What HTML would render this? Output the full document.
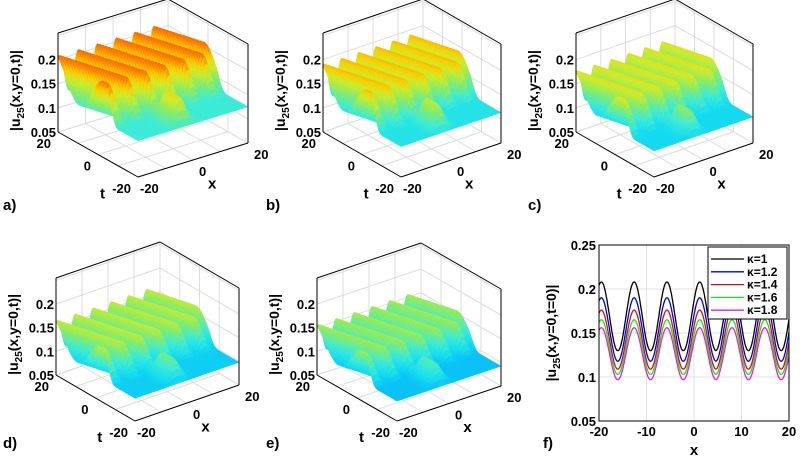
<!DOCTYPE html>
<html><head><meta charset="utf-8"><style>
body{margin:0;background:#fff;}
svg{display:block;font-family:"Liberation Sans",Arial,sans-serif;font-weight:bold;}
</style></head><body>
<svg id="fig" width="810" height="461" viewBox="0 0 810 461" xmlns="http://www.w3.org/2000/svg"></svg>
<script>
// ---- data ----
const panelLabels = ["a)","b)","c)","d)","e)"];
const panelPeak = [0.208, 0.19, 0.176, 0.165, 0.156];
const panelTrough = [0.13, 0.118, 0.109, 0.103, 0.097];
const kappaLabels = ["κ=1","κ=1.2","κ=1.4","κ=1.6","κ=1.8"];
const kappaPeak = [0.208, 0.19, 0.176, 0.165, 0.156];
const kappaTrough = [0.13, 0.118, 0.109, 0.103, 0.097];
const kappaColors = ["#000000","#0000e0","#d01010","#20e020","#e020e0"];
const peakPositions = [-33.2, -26.4, -19.5, -12.6, -5.7, 1.2, 8.0, 14.9, 21.8];
const zTicks = [0.05, 0.1, 0.15, 0.2];
const fYTicks = [0.05, 0.1, 0.15, 0.2, 0.25];
const fXTicks = [-20, -10, 0, 10, 20];

const NS = "http://www.w3.org/2000/svg";
const svg = document.getElementById("fig");
function mk(tag, attrs, parent){const e=document.createElementNS(NS,tag);for(const k in attrs)e.setAttribute(k,attrs[k]);(parent||svg).appendChild(e);return e;}
function txt(s, attrs, parent){const e=mk("text",attrs,parent);e.textContent=s;return e;}

const layouts = [
  {F:[138,177], ex:[110,-34], et:[-80,-45], h:99, lx:3, ly:210},
  {F:[401,177], ex:[100,-34], et:[-78,-45], h:99, lx:266, ly:210},
  {F:[654,177], ex:[99,-34], et:[-78,-45], h:99, lx:528, ly:210},
  {F:[135,421], ex:[104,-36], et:[-79,-46], h:97, lx:3, ly:448},
  {F:[397,421], ex:[104,-35], et:[-80,-46], h:97, lx:266, ly:448}
];
const zmin=0.05, zmax=0.255;

function cmap(z){
  const stops=[[0.08,[0,170,250]],[0.105,[20,220,240]],[0.125,[60,235,215]],[0.15,[140,235,100]],[0.17,[210,235,40]],[0.185,[250,205,0]],[0.2,[250,135,0]],[0.215,[245,80,0]]];
  if(z<=stops[0][0])return stops[0][1];
  for(let i=1;i<stops.length;i++){if(z<=stops[i][0]){const a=stops[i-1],b=stops[i],f=(z-a[0])/(b[0]-a[0]);return a[1].map((v,k)=>Math.round(v+(b[1][k]-v)*f));}}
  return stops[stops.length-1][1];
}

function ridge(x, peak, trough){
  let d=1e9; for(const p of peakPositions){const dd=Math.abs(x-p); if(dd<d)d=dd;}
  const per=6.85; const c=Math.cos(Math.PI*Math.min(d,per/2)/(per/2));
  return trough+(peak-trough)*(0.5+0.5*c);
}

function panel(i){
  const L=layouts[i]; const g=mk("g",{});
  
  
  const P=(x,t,z)=>{const u=(x+20)/40,v=(t+20)/40;return [L.F[0]+L.ex[0]*u+L.et[0]*v, L.F[1]+L.ex[1]*u+L.et[1]*v-(z-zmin)/(zmax-zmin)*L.h];};
  const line=(a,b,st,w)=>mk("line",{x1:a[0],y1:a[1],x2:b[0],y2:b[1],stroke:st,"stroke-width":w||1},g);
  const gc="#dcdcdc";
  [-10,0,10].forEach(v=>{line(P(v,-20,zmin),P(v,20,zmin),gc);line(P(-20,v,zmin),P(20,v,zmin),gc);
    line(P(v,20,zmin),P(v,20,zmax),gc);line(P(20,v,zmin),P(20,v,zmax),gc);});
  zTicks.concat([0.25]).forEach(z=>{line(P(-20,20,z),P(20,20,z),gc);line(P(20,20,z),P(20,-20,z),gc);});
  line(P(20,20,zmin),P(20,20,zmax),gc);
  line(P(-20,20,zmin),P(20,20,zmin),gc);line(P(20,20,zmin),P(20,-20,zmin),gc);
  const peak=panelPeak[i], tr=panelTrough[i];
  const low=tr-0.005;
  const f=(x,t)=>{
    const s=Math.max(0,Math.min(1,(t+10)/6)); const sm=s*s*(3-2*s);
    let base=low+(ridge(x+0.28*(t-20),peak,tr)-low)*sm;
    // small bump in the front plateau
    const bx=(x+3)/3.2, bt=(t+12)/5;
    if(bt<1.2){const bb=Math.exp(-bx*bx)*Math.max(0,Math.min(1,(1.2-bt)))*Math.max(0,Math.min(1,(t+20)/3));base=Math.max(base,low+(peak-low)*0.65*bb*(1-sm));}
    return base;};
  const nx=120, nt=48, quads=[];
  for(let a=0;a<nx;a++)for(let b=0;b<nt;b++){
    const x0=-20+40*a/nx,x1=-20+40*(a+1)/nx,t0=-20+40*b/nt,t1=-20+40*(b+1)/nt;
    const zs=[f(x0,t0),f(x1,t0),f(x1,t1),f(x0,t1)];
    const xm=(x0+x1)/2,tm=(t0+t1)/2;
    quads.push({d:34*xm+45*tm, pts:[P(x0,t0,zs[0]),P(x1,t0,zs[1]),P(x1,t1,zs[2]),P(x0,t1,zs[3])], z:(zs[0]+zs[1]+zs[2]+zs[3])/4});
  }
  quads.sort((p,q)=>q.d-p.d);
  const sg=mk("g",{},g);
  
  
  quads.forEach(q=>{const c=cmap(q.z);const col=`rgb(${c[0]},${c[1]},${c[2]})`;
    mk("polygon",{points:q.pts.map(p=>p[0].toFixed(1)+","+p[1].toFixed(1)).join(" "),fill:col,stroke:col,"stroke-width":0.5},sg);});
  const k="#000";
  line(P(-20,20,zmin),P(-20,20,zmax),k);
  line(P(-20,20,zmax),P(20,20,zmax),k);
  line(P(20,20,zmax),P(20,-20,zmax),k);
  line(P(20,-20,zmin),P(20,-20,zmax),k);
  line(P(-20,20,zmin),P(-20,-20,zmin),k);
  line(P(-20,-20,zmin),P(20,-20,zmin),k);
  zTicks.forEach(z=>{const p=P(-20,20,z); txt(String(z),{x:p[0]-2,y:p[1]+5,"text-anchor":"end","font-size":13},g);});
  [20,0,-20].forEach(t=>{const p=P(-20,t,zmin); txt(String(t),{x:p[0]-7,y:p[1]+16,"text-anchor":"end","font-size":13},g);});
  [-20,0,20].forEach(x=>{const p=P(x,-20,zmin); txt(String(x),{x:p[0]+(x===-20?2:6),y:p[1]+16,"text-anchor":"start","font-size":13},g);});
  const tp=P(-20,-8,zmin); const tl=txt("t",{x:tp[0]-14,y:tp[1]+35,"font-size":15},g);
   
  const xp=P(4,-20,zmin); const xl=txt("x",{x:xp[0]+4,y:xp[1]+32,"font-size":15},g);
   
  const zc=P(-20,20,0.14); const zt=mk("text",{transform:`translate(${zc[0]-38},${zc[1]+2}) rotate(-90)`,"text-anchor":"middle","font-size":14},g);
  zt.innerHTML='|u<tspan font-size="10" dy="4">25</tspan><tspan dy="-4">(x,y=0,t)|</tspan>';
   
  const pl=txt(panelLabels[i],{x:L.lx,y:L.ly,"font-size":15},g);
   
}
for(let i=0;i<5;i++)panel(i);

// ---- panel f ----
(function(){
  const X0=599,X1=789,Y0=245,Y1=421;
  const sx=v=>X0+(v+20)/40*(X1-X0), sy=v=>Y1-(v-0.05)/0.2*(Y1-Y0);
  const g=mk("g",{});
  
  
  fXTicks.forEach(v=>{mk("line",{x1:sx(v),y1:Y0,x2:sx(v),y2:Y1,stroke:"#e0e0e0"},g);
    txt(String(v),{x:sx(v),y:Y1+15,"text-anchor":"middle","font-size":13},g);});
  fYTicks.forEach(v=>{mk("line",{x1:X0,y1:sy(v),x2:X1,y2:sy(v),stroke:"#e0e0e0"},g);
    txt(String(v),{x:X0-3,y:sy(v)+5,"text-anchor":"end","font-size":13},g);});
  const cl=mk("clipPath",{id:"fclip"},g); mk("rect",{x:X0,y:Y0,width:X1-X0,height:Y1-Y0},cl);
  kappaPeak.forEach((pk,j)=>{
    let d="";
    for(let n=0;n<=400;n++){const x=-20+40*n/400;const y=ridge(x,pk,kappaTrough[j]);d+=(n?"L":"M")+sx(x).toFixed(1)+","+sy(y).toFixed(1);}
    const p=mk("path",{d:d,fill:"none",stroke:kappaColors[j],"stroke-width":1.3,"clip-path":"url(#fclip)"},g);
    
    
  });
  mk("rect",{x:X0,y:Y0,width:X1-X0,height:Y1-Y0,fill:"none",stroke:"#000"},g);
  const lg=mk("g",{},g);
  
  
  mk("rect",{x:708,y:247,width:79,height:72,fill:"#fff",stroke:"#000"},lg);
  kappaLabels.forEach((s,j)=>{const y=259+j*12.8;
    mk("line",{x1:711,y1:y,x2:744,y2:y,stroke:kappaColors[j],"stroke-width":1.3},lg);
    const t=txt(s,{x:747,y:y+4,"font-size":12},lg);
    
    });
  const yt=mk("text",{transform:"translate(556,333) rotate(-90)","text-anchor":"middle","font-size":14},g);
  yt.innerHTML='|u<tspan font-size="10" dy="4">25</tspan><tspan dy="-4">(x,y=0,t=0)|</tspan>';
   
  const xt=txt("x",{x:694,y:455,"text-anchor":"middle","font-size":15},g);
   
  const fl=txt("f)",{x:543,y:448,"font-size":15},g);
   
})();
</script>
</body></html>
